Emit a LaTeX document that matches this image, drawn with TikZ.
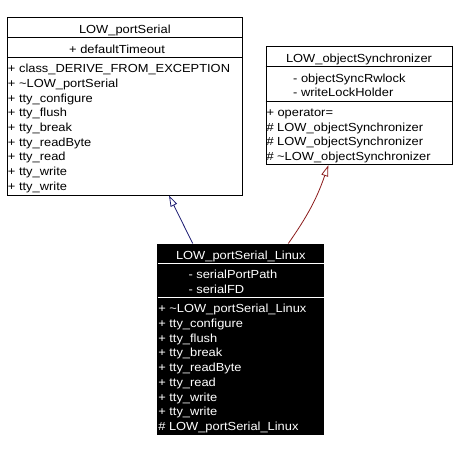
\documentclass[tikz,border=0pt]{standalone}
\usepackage{fontspec}
\setmainfont{Liberation Sans}[FakeStretch=1.1]
\usepackage{tikz}
\usetikzlibrary{calc}
\usetikzlibrary{arrows.meta}
\usetikzlibrary{positioning}
\definecolor{midnightBlue}{RGB}{25,25,112}
\definecolor{firebrickFour}{RGB}{139,26,26}
\tikzset{
    classBox/.style={
        ,   draw=black
        ,   fill=white
        ,   line width=1pt
        ,   inner sep=0pt
        ,   anchor=north west
    },
    classBoxDark/.style={
        ,   classBox
        ,   fill=black
    },
    splitLine/.style={
        ,   line width=1pt
        ,   draw=black
    },
    titleText/.style={
        ,   anchor=base
        ,   inner sep=0pt
    },
    memberText/.style={
        ,   anchor=base west
        ,   inner sep=0pt
    },
    pubInherit/.style={ % public inheritance
        ,   draw=midnightBlue
        ,   line width=0.8pt
        ,   -{Triangle[open,length=11pt,width=7pt]}
    },
    privInherit/.style={ % private inheritance
        ,   draw=firebrickFour
        ,   line width=0.8pt
        ,   -{Triangle[open,length=11pt,width=7pt]}
    }
}
\begin{document}
\begin{tikzpicture}[x=1pt, y=-1pt, font={\fontsize{11.7}{14.7}\selectfont}]
\useasboundingbox (0,0) rectangle (454,452);

% base class LOW_portSerial
\node[classBox, minimum width=234.7pt, minimum height=177.2pt] (portSerial) at (7,17.3) {};
\draw[splitLine] ($(portSerial.north west)+(0,20.3)$) -- ($(portSerial.north east)+(0,20.3)$);
\draw[splitLine] ($(portSerial.north west)+(0,40)$) -- ($(portSerial.north east)+(0,40)$);
\node[titleText] (portSerialName) at ($(portSerial.north)+(0,16)$) {LOW\_portSerial};
\node[memberText] (portSerialAttr) at ($(portSerial.north west)+(62,35.8)$) {+ defaultTimeout};
\foreach \m [count=\i] in {+ class\_DERIVE\_FROM\_EXCEPTION, + \textasciitilde LOW\_portSerial,
    + tty\_configure, + tty\_flush, + tty\_break, + tty\_readByte, + tty\_read, + tty\_write, + tty\_write}{
  \node[memberText] (portSerialOp\i) at ($(portSerial.north west)+(0.8,40.6+14.7*\i)$) {\m};
}

% base class LOW_objectSynchronizer
\node[classBox, minimum width=186pt, minimum height=118.3pt] (objSync) at (265.5,46) {};
\draw[splitLine] ($(objSync.north west)+(0,20.5)$) -- ($(objSync.north east)+(0,20.5)$);
\draw[splitLine] ($(objSync.north west)+(0,55)$) -- ($(objSync.north east)+(0,55)$);
\node[titleText] (objSyncName) at ($(objSync.north)+(0,16)$) {LOW\_objectSynchronizer};
\foreach \m [count=\i] in {- objectSyncRwlock, - writeLockHolder}{
  \node[memberText] (objSyncAttr\i) at ($(objSync.north west)+(27.5,21.3+14.7*\i)$) {\m};
}
\foreach \m [count=\i] in {+ operator=, \# LOW\_objectSynchronizer, \# LOW\_objectSynchronizer,
    \# \textasciitilde LOW\_objectSynchronizer}{
  \node[memberText] (objSyncOp\i) at ($(objSync.north west)+(0.8,55.6+14.7*\i)$) {\m};
}

% derived class LOW_portSerial_Linux
\node[classBoxDark, minimum width=166pt, minimum height=190.8pt] (portSerialLinux) at (157.3,243.5) {};
\draw[splitLine, draw=white] ($(portSerialLinux.north west)+(0.5,20)$) -- ($(portSerialLinux.north east)+(-0.5,20)$);
\draw[splitLine, draw=white] ($(portSerialLinux.north west)+(0.5,54)$) -- ($(portSerialLinux.north east)+(-0.5,54)$);
\node[titleText, text=white] (portSerialLinuxName) at ($(portSerialLinux.north)+(0,16)$) {LOW\_portSerial\_Linux};
\foreach \m [count=\i] in {- serialPortPath, - serialFD}{
  \node[memberText, text=white] (portSerialLinuxAttr\i) at ($(portSerialLinux.north west)+(31,20.6+14.7*\i)$) {\m};
}
\foreach \m [count=\i] in {+ \textasciitilde LOW\_portSerial\_Linux, + tty\_configure, + tty\_flush, + tty\_break,
    + tty\_readByte, + tty\_read, + tty\_write, + tty\_write, \# LOW\_portSerial\_Linux}{
  \node[memberText, text=white] (portSerialLinuxOp\i) at ($(portSerialLinux.north west)+(0.8,54.6+14.7*\i)$) {\m};
}

% inheritance
\draw[pubInherit] ($(portSerialLinux.north west)+(35.4,0)$) -- ($(portSerial.south west)+(162,0)$);
\draw[privInherit] ($(portSerialLinux.north west)+(131,0)$) to[bend right=8] ($(objSync.south west)+(62.8,0)$);
\end{tikzpicture}
\end{document}
